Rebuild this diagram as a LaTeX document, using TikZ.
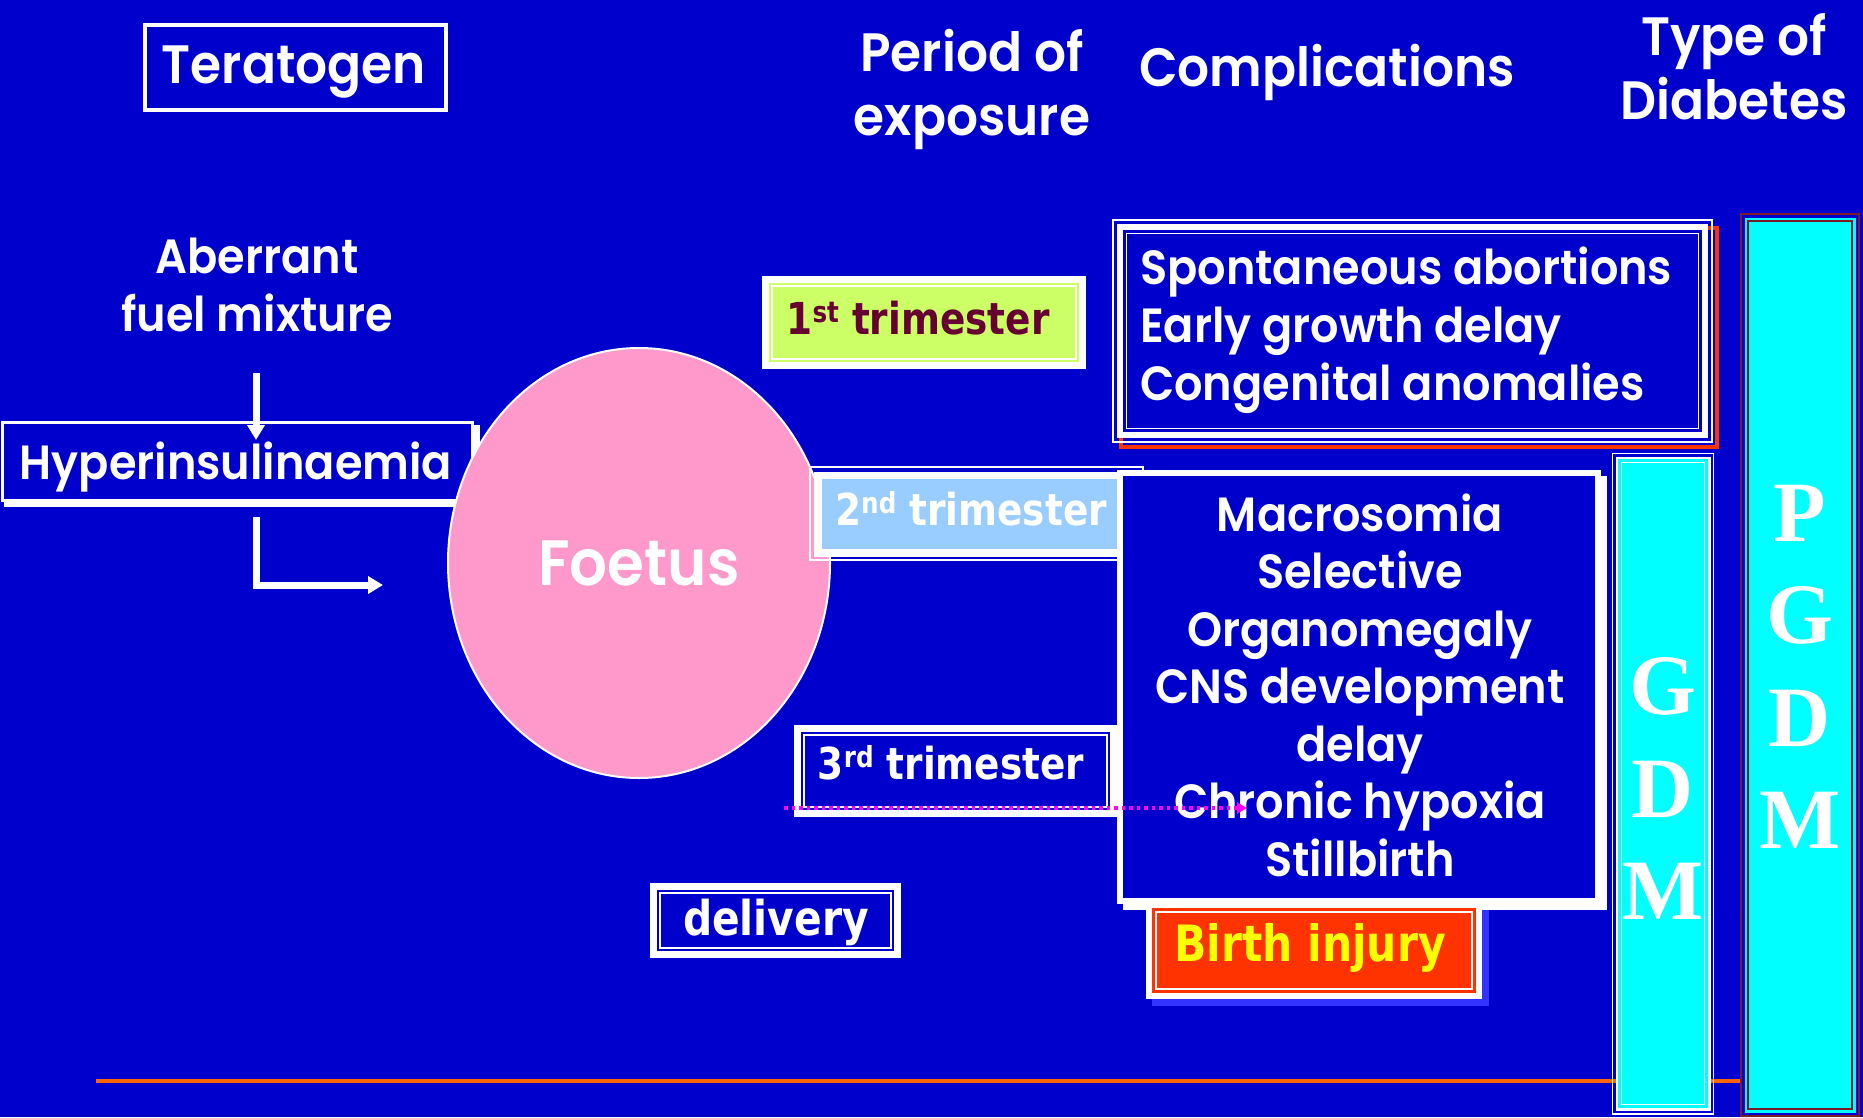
\documentclass[tikz,border=0pt]{standalone}
\usepackage{fontspec}
\setmainfont{Poppins}[FakeStretch=0.93, BoldFont={Poppins SemiBold}]
\newfontfamily\tah{DejaVu Sans}[FakeStretch=0.85]
\newfontfamily\tms{Liberation Serif}
\usetikzlibrary{arrows.meta,shapes.geometric}
\definecolor{bg}{HTML}{0000CC}
\definecolor{pinkf}{HTML}{FF99CC}
\definecolor{limef}{HTML}{CCFF66}
\definecolor{skyf}{HTML}{99CCFF}
\definecolor{redf}{HTML}{FF3300}
\definecolor{shadowb}{HTML}{3333FF}
\definecolor{maroontxt}{HTML}{660033}
\definecolor{maroonl}{HTML}{7A1A2A}
\definecolor{orangel}{HTML}{FF6600}
\definecolor{magl}{HTML}{FF00FF}
\definecolor{cyanf}{HTML}{00FFFF}
\definecolor{yellowt}{HTML}{FFFF00}
\newcommand\sz[2]{\fontsize{#1}{#2}\selectfont}
\newcommand\supx[1]{\raisebox{12pt}{\sz{29}{29}#1}}
\newcommand\tribox[6]{%
  \fill[white] (#2,#3) rectangle (#4,#5);
  \fill[#6] ({#2+7},{#3+7}) rectangle ({#4-7},{#5-7});
  \draw[white,line width=1.5pt] ({#2+10},{#3+10}) rectangle ({#4-10},{#5-10});
  \coordinate (#1) at ({(#2+#4)/2},{(#3+#5)/2});
}
\tikzset{
  gothic/.style={text=white, inner sep=0pt, align=center, font=\sz{48}{58}\bfseries},
  header/.style={gothic, font=\sz{54}{64}\bfseries},
  tahlabel/.style={inner sep=0pt, font=\tah\bfseries\sz{44}{50}},
  bigletters/.style={inner sep=0pt, align=center, text=white, font=\tms\bfseries\sz{86}{102.5}},
  fatarrow/.style={white, line width=7pt, -{Triangle[length=15pt,width=17pt]}},
}
\begin{document}
\begin{tikzpicture}[x=1pt,y=-1pt]
\fill[bg] (0,0) rectangle (1863,1117);
\useasboundingbox (0,0) rectangle (1863,1117);

% headers
\node[draw=white, line width=4pt, minimum width=301pt, minimum height=85pt, inner sep=0pt] (terabox) at (295.5,67.5) {};
\node[header] (tera) at (294,72) {Teratogen};
\node[header] (period) at (972,89) {Period of\\exposure};
\node[header] (compl) at (1327,72) {Complications};
\node[header] (type) at (1734,67) {Type of\\Diabetes};

% aberrant
\node[gothic] (aberr) at (257,285) {Aberrant\\fuel mixture};

% hyperinsulinaemia
\fill[white] (4,425) rectangle (480,507);
\node[fill=bg, draw=white, line width=2.5pt, minimum width=470pt, minimum height=78pt, anchor=north west, inner sep=0pt] (hypbox) at (1.25,421.25) {};
\node[gothic] (hyp) at (236,467) {Hyperinsulinaemia};
\coordinate (va) at (256,373);
\coordinate (vb) at (256,440);
\draw[fatarrow] (va) -- (vb);
\coordinate (la) at (256,517);
\coordinate (lb) at (383,585);
\draw[fatarrow] (la) |- (lb);

% foetus
\node[ellipse, draw=white, line width=2pt, fill=pinkf, minimum width=382pt, minimum height=430pt, inner sep=0pt, text=white, font=\sz{64}{70}\bfseries] (foetus) at (639,563) {Foetus};

% 1st trimester
\tribox{t1box}{762}{276}{1086}{369}{limef}
\node[tahlabel, text=maroontxt] (t1) at (918,318) {1\supx{st} trimester};

% 2nd trimester
\draw[white, line width=1.5pt] (810,467) rectangle (1143,560);
\fill[white] (814,472) rectangle (1125,557);
\fill[skyf] (822,479) rectangle (1117,549);
\node[tahlabel, text=white] (t2) at (971,509) {2\supx{nd} trimester};

% 3rd trimester
\tribox{t3box}{794}{725}{1117}{817}{bg}
\node[tahlabel, text=white] (t3) at (951,763) {3\supx{rd} trimester};

% delivery
\tribox{dbox}{650}{883}{901}{958}{bg}
\node[tahlabel, font=\tah\bfseries\sz{48}{54}, text=white] (deliv) at (776,922) {delivery};

% complications box 1
\draw[redf, line width=4pt] (1121,228) rectangle (1717,447);
\draw[white, line width=1.5pt] (1113,220) rectangle (1712,442);
\fill[white] (1117,224) rectangle (1708,438);
\fill[bg] (1123,230) rectangle (1702,432);
\draw[white, line width=1.5pt] (1126.5,233.5) rectangle (1698.5,428.5);
\node[gothic, align=left, anchor=west] (comp1) at (1140,330) {Spontaneous abortions\\Early growth delay\\Congenital anomalies};

% complications box 2
\fill[white] (1123,476) rectangle (1607,910);
\fill[white] (1117,470) rectangle (1601,904);
\fill[bg] (1123,476) rectangle (1595,898);
\node[gothic, font=\sz{48}{57.5}\bfseries] (comp2) at (1360,685) {Macrosomia\\Selective\\Organomegaly\\CNS development\\delay\\Chronic hypoxia\\Stillbirth};

% birth injury
\fill[shadowb] (1152,910) rectangle (1489,1006);
\fill[white] (1146,903) rectangle (1482,999);
\fill[redf] (1152,908) rectangle (1476,993);
\draw[white, line width=1.5pt] (1156,912) rectangle (1472,989);
\node[tahlabel, text=yellowt, font=\tah\bfseries\sz{50}{56}] (birth) at (1310,948) {Birth injury};

% magenta dotted arrow
\coordinate (ma) at (784,808);
\coordinate (mb) at (1247,808);
\draw[magl, line width=3.5pt, dash pattern=on 3.5pt off 4pt, -{Triangle[length=10pt,width=11pt]}] (ma) -- (mb);

% orange line
\coordinate (oa) at (96,1081);
\coordinate (ob) at (1740,1081);
\draw[orangel, line width=4pt] (oa) -- (ob);

% GDM column
\draw[white, line width=1.5pt] (1612.5,453.5) rectangle (1713.5,1114);
\fill[white] (1615.5,456.5) rectangle (1710.5,1111);
\fill[cyanf] (1618,459) rectangle (1708,1108);
\draw[white, line width=1.5pt] (1621.5,462.5) rectangle (1704.5,1104.5);
\node[bigletters] (gdm) at (1663,789) {G\\D\\M};

% PGDM column
\draw[maroonl, line width=2.5pt] (1741,214) rectangle (1859,1116);
\fill[cyanf] (1744.5,217.5) rectangle (1855.5,1112.5);
\draw[maroonl, line width=1.5pt] (1748,221) rectangle (1852,1109);
\node[bigletters] (pgdm) at (1800,667) {P\\G\\D\\M};
\end{tikzpicture}
\end{document}
